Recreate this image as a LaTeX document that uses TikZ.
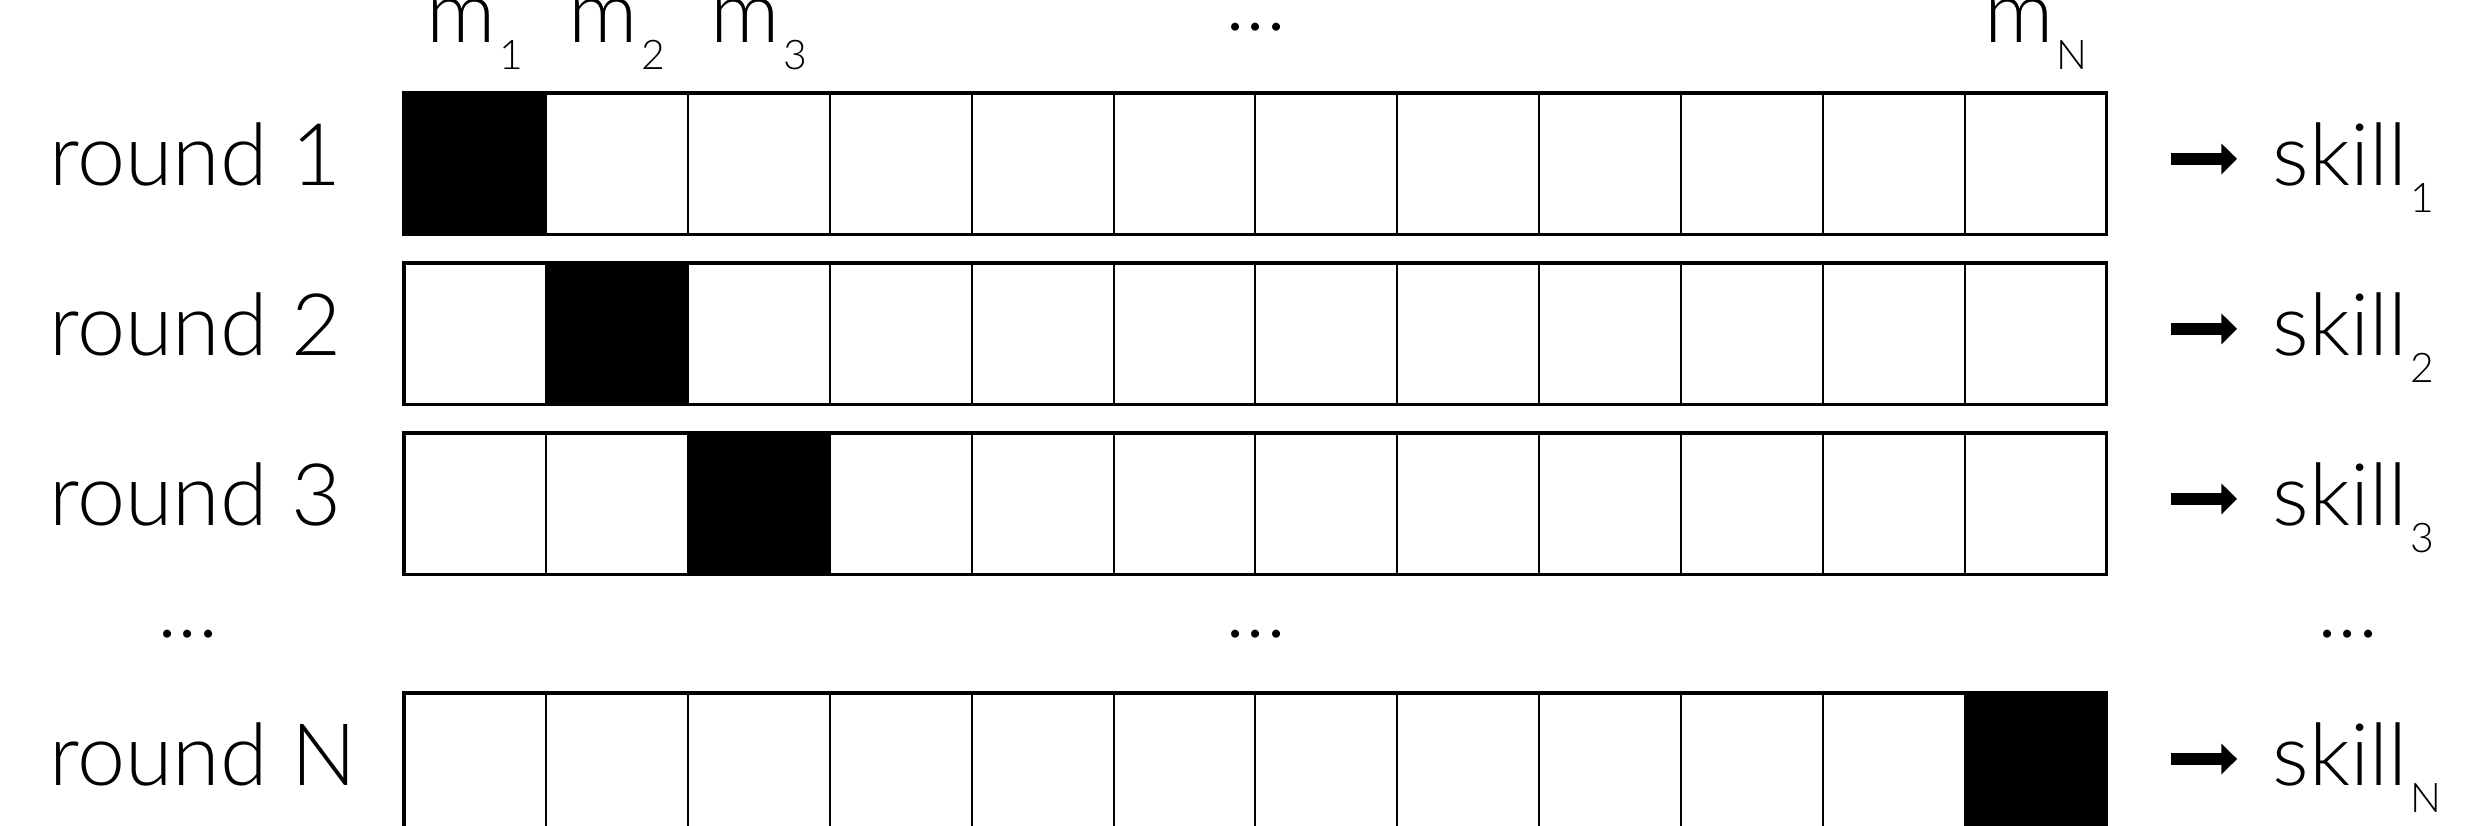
\documentclass[tikz,border=0pt]{standalone}
\usepackage{fontspec}
\setmainfont{Lato Light}
\usepackage{tikz}
\usetikzlibrary{arrows.meta,positioning,calc}
\newcommand{\lowsub}[1]{\kern0.6pt\raisebox{-5.5pt}{\fontsize{8.2}{8.2}\selectfont #1}}
\tikzset{
  cell/.style={draw=black,fill=white,line width=0.4pt,minimum width=1cm,
               minimum height=1cm,inner sep=0pt,outer sep=0pt},
  hotcell/.style={cell,fill=black},
  rowframe/.style={draw=black,line width=0.65pt},
  lab/.style={inner sep=0pt,font=\fontsize{17.3}{20}\selectfont,text=black},
  fatarr/.style={-{Triangle[length=1.1mm,width=2.1mm]},line width=2.3pt,
                 draw=black}
}
\begin{document}
\begin{tikzpicture}[x=1cm,y=1cm]
    \path[use as bounding box] (0,0) rectangle (17.477,-5.821);
    \foreach \r/\y/\hot in {1/-1.155/1,2/-2.353/2,3/-3.551/3,N/-5.384/12}{
      \foreach \c in {1,...,12}{
        \ifnum\c=\hot \def\cs{hotcell}\else\def\cs{cell}\fi
        \node[\cs] (c\r-\c) at (2.347+\c,\y) {};
      }
      \draw[rowframe] (c\r-1.north west) rectangle (c\r-12.south east);
      \node[lab,anchor=base west] (round\r) at (0.34,\y-0.149) {round \r};
      \node[lab,anchor=base west] (skill\r) at (16.01,\y-0.149) {skill\lowsub{\r}};
      \coordinate (arr\r) at (15.30,\y+0.035);
      \draw[fatarr] (arr\r) -- ([xshift=-2.45mm]arr\r -| skill\r.west);
    }
    \foreach \c/\lab in {1/1,2/2,3/3,12/N}{
      \node[lab,anchor=base] (m\lab) at (c1-\c.center |- 0,-0.30) {m\lowsub{\lab}};
    }
    \node[lab,anchor=base] (topdots) at (8.851,-0.213) {...};
    \node[lab,anchor=base] (leftdots) at (1.325,-4.49) {...};
    \node[lab,anchor=base] (middots) at (8.851,-4.49) {...};
    \node[lab,anchor=base] (rightdots) at (16.546,-4.49) {...};
  \end{tikzpicture}
\end{document}
